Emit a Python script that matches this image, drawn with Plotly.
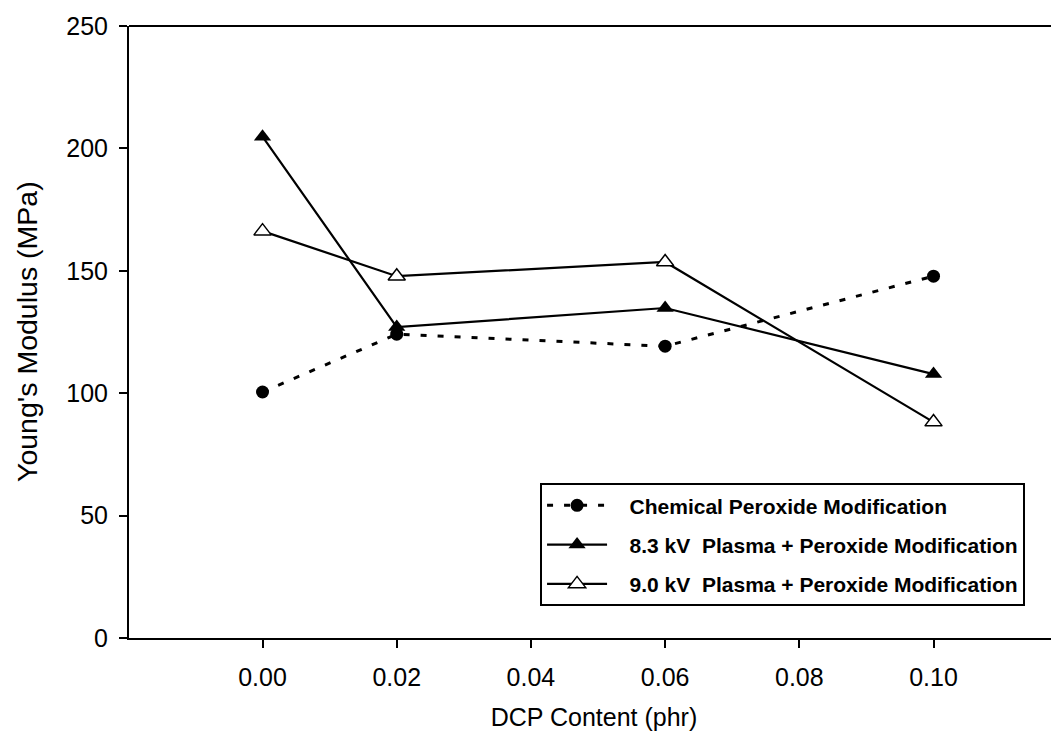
import plotly.graph_objects as go

dcp = [0.00, 0.02, 0.06, 0.10]
chemical = [100.5, 124.1, 119.2, 147.8]
plasma_83 = [204.8, 127.0, 134.8, 107.8]
plasma_90 = [166.2, 147.8, 153.6, 88.2]

series_names = [
    "Chemical Peroxide Modification",
    "8.3 kV  Plasma + Peroxide Modification",
    "9.0 kV  Plasma + Peroxide Modification",
]

x_ticks = [0.00, 0.02, 0.04, 0.06, 0.08, 0.10]
x_tick_labels = ["0.00", "0.02", "0.04", "0.06", "0.08", "0.10"]
y_ticks = [0, 50, 100, 150, 200, 250]

FONT = "Liberation Sans, Arial, sans-serif"
PAD = "\u00a0\u00a0\u00a0"

fig = go.Figure()
fig.add_trace(go.Scatter(
    x=dcp, y=chemical, mode="lines+markers",
    name=PAD + series_names[0], legendgroup="a",
    line=dict(color="black", width=3, dash="6px,11px"),
    marker=dict(symbol="circle", size=13, color="black"),
))
fig.add_trace(go.Scatter(
    x=dcp, y=plasma_83, mode="lines+markers",
    name=PAD + series_names[1], legendgroup="b",
    line=dict(color="black", width=2.2),
    marker=dict(symbol="triangle-up", size=15, color="black"),
))
fig.add_trace(go.Scatter(
    x=dcp, y=plasma_90, mode="lines+markers",
    name=PAD + series_names[2], legendgroup="c",
    line=dict(color="black", width=2.2),
    marker=dict(symbol="triangle-up", size=15, color="white",
                line=dict(color="black", width=1.5)),
))

fig.update_layout(
    width=1051, height=725,
    margin=dict(l=121, r=0, t=18, b=95),
    paper_bgcolor="white", plot_bgcolor="white",
    font=dict(family=FONT, color="black", size=24),
    showlegend=True,
    legend=dict(
        x=0.442, y=0.253, xanchor="left", yanchor="top",
        bgcolor="white", bordercolor="black", borderwidth=2,
        font=dict(family=FONT, size=21, color="black", weight="bold"),
        tracegroupgap=9, itemwidth=60,
    ),
)
fig.update_xaxes(
    range=[-0.0199, 0.1187],
    tickvals=x_ticks, ticktext=x_tick_labels,
    showgrid=False, zeroline=False,
    showline=True, linecolor="black", linewidth=2, mirror=False,
    ticks="outside", ticklen=8, tickwidth=2, tickcolor="black",
    tickfont=dict(size=25), ticklabelstandoff=8,
    title=dict(text="DCP Content (phr)", font=dict(size=25), standoff=18),
)
fig.update_yaxes(
    range=[0, 250],
    tickvals=y_ticks,
    showgrid=False, zeroline=False,
    showline=True, linecolor="black", linewidth=2,
    ticks="outside", ticklen=8, tickwidth=2, tickcolor="black",
    tickfont=dict(size=25), ticklabelstandoff=6,
)
fig.add_annotation(
    text="Young's Modulus (MPa)", textangle=-90,
    xref="paper", yref="paper", x=0, y=0.5,
    xanchor="center", yanchor="middle", xshift=-102,
    showarrow=False, font=dict(family=FONT, size=28.5, color="black"),
)
# top frame line
fig.add_shape(type="line", xref="paper", yref="paper", x0=0, x1=1, y0=1, y1=1,
              line=dict(color="black", width=2))

fig.write_html("out.html")
